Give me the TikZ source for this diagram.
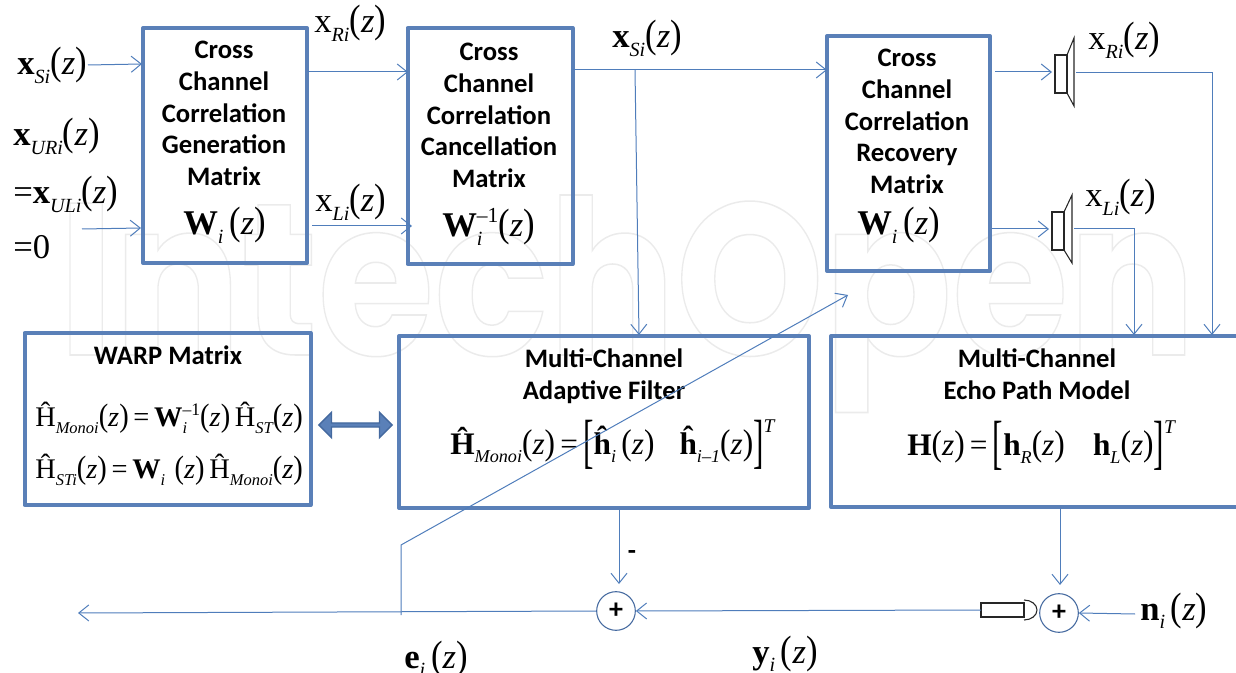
\documentclass[tikz,border=0pt]{standalone}
\usepackage{fontspec}
\usetikzlibrary{arrows.meta,shapes.arrows,calc}
\setmainfont{Liberation Serif}
\newfontfamily\boxfont{Carlito}
\newfontfamily\wmfont{Poppins}
\definecolor{thickblue}{HTML}{5A80B8}
\definecolor{thinblue}{HTML}{4F7DBB}
\definecolor{ringblue}{HTML}{44699F}
\newcommand\sz[1]{\fontsize{#1}{#1}\selectfont}
\newcommand\paren[1]{\scalebox{1}[1.14]{#1}}
\newcommand\zz{\paren{(}\textit{z}\paren{)}}
\newcommand\sbs[1]{\raisebox{-.24em}{\scalebox{.58}{\itshape #1}}}
\newcommand\spp[1]{\raisebox{.42em}{\scalebox{.62}{#1}}}
\newcommand\tpp[1]{\raisebox{.72em}{\scalebox{.62}{#1}}}
\newcommand\bigL{\raisebox{-.2em}{\scalebox{1}[1.9]{[}}}
\newcommand\bigR{\raisebox{-.2em}{\scalebox{1}[1.9]{]}}}
\tikzset{
  x=0.75pt,y=-0.75pt,
  blockbox/.style={draw=thickblue,line width=3pt,line join=round,inner sep=0pt,outer sep=0pt,fill=none},
  sigarrow/.style={draw=thinblue,line width=0.75pt,-{Straight Barb[length=7.5pt,width=12pt,line width=0.75pt]}},
  title/.style={font=\boxfont\bfseries\sz{20pt},align=center,inner sep=0pt,text depth=0pt},
  eq/.style={anchor=base west,inner sep=0pt,font=\sz{26pt}},
  eqs/.style={anchor=base west,inner sep=0pt,font=\sz{21.3pt}},
  eqb/.style={anchor=base west,inner sep=0pt,font=\sz{23.5pt}},
  sumnode/.style={circle,draw=ringblue,line width=0.8pt,minimum size=29pt,inner sep=0pt,font=\boxfont\bfseries\sz{21pt}},
  device/.style={draw=black!85,line width=0.8pt,inner sep=0pt,outer sep=0pt},
}
\begin{document}
\begin{tikzpicture}
\useasboundingbox (0,0) rectangle (1236,673);
% watermark
\node[anchor=base west,inner sep=0pt] (wm) at (58,355) {\resizebox{853pt}{120pt}{\wmfont\bfseries\sz{100pt}\special{pdf:code 1 Tr 0.92 G 0.7 w}IntechOpen\special{pdf:code 0 Tr 0 G 1 w}}};
% blocks
\node[blockbox,minimum width=123pt,minimum height=176.25pt] (gen) at (225,145.5) {};
\node[blockbox,minimum width=123.75pt,minimum height=177pt] (can) at (490,146) {};
\node[blockbox,minimum width=122.25pt,minimum height=176.25pt] (rec) at (908.5,153.5) {};
\node[blockbox,minimum width=214.5pt,minimum height=129pt] (warp) at (167.5,419) {};
\node[blockbox,minimum width=307.5pt,minimum height=129pt] (fil) at (604,422) {};
\node[blockbox,minimum width=313.5pt,minimum height=128.25pt] (ech) at (1040,421.5) {};
% titles
\foreach \nm/\cx/\ty/\la in {a/224/50/Cross,b/224/81.5/Channel,c/224/113/Correlation,d/224/144.5/Generation,e/224/176/Matrix,
  f/489/52/Cross,g/489/83.5/Channel,h/489/115/Correlation,i/489/146.5/Cancellation,j/489/178/Matrix,
  k/907/58/Cross,l/907/89.5/Channel,m/907/121/Correlation,n/907/152.5/Recovery,o/907/184/Matrix,
  p/168/355/WARP Matrix,q/604/358/Multi-Channel,r/604/390/Adaptive Filter,s/1037/358/Multi-Channel,t/1037/390/Echo Path Model}
  {\node[title] (tt\nm) at (\cx,\ty) {\la};}
% math labels
\node[eq] (lxs) at (17,75) {\textbf{x}\sbs{Si}\zz};
\node[eq] (lxur) at (13,146) {\textbf{x}\sbs{URi}\zz};
\node[eq] (lxul) at (13,204) {=\textbf{x}\sbs{ULi}\zz};
\node[eq] (lzero) at (13,259) {=0};
\node[eq] (lxr) at (314,33) {x\sbs{Ri}\zz};
\node[eq] (lxl) at (315,212) {x\sbs{Li}\zz};
\node[eq] (lw1) at (183,235) {\textbf{W}\sbs{i}\,\zz};
\node[eq] (lw2) at (442,237) {\textbf{W}\rlap{\sbs{i}}\spp{–1}\zz};
\node[eq] (lxs2) at (612,48) {\textbf{x}\sbs{Si}\zz};
\node[eq] (lw3) at (857,235) {\textbf{W}\sbs{i}\,\zz};
\node[eq] (lxr3) at (1088,50) {x\sbs{Ri}\zz};
\node[eq] (lxl3) at (1085,207) {x\sbs{Li}\zz};
\node[eqs] (lh1) at (35,427) {Ĥ\sbs{Monoi}\zz\,=\,\textbf{W}\rlap{\sbs{i}}\spp{–1}\zz\,Ĥ\sbs{ST}\zz};
\node[eqs] (lh2) at (35,479) {Ĥ\sbs{STi}\zz\,=\,\textbf{W}\sbs{i}\,\,\zz\,Ĥ\sbs{Monoi}\zz};
\node[eqb] (lh3) at (450,455) {\textbf{Ĥ}\sbs{Monoi}\zz\,=\,\bigL\textbf{ĥ}\sbs{i}\,\zz\hspace{.8em}\textbf{ĥ}\sbs{i–1}\zz\bigR\tpp{\textit{T}}};
\node[eqb] (lh4) at (907,456) {\textbf{H}\zz\,=\,\bigL\textbf{h}\sbs{R}\zz\hspace{.9em}\textbf{h}\sbs{L}\zz\bigR\tpp{\textit{T}}};
\node[eq] (le) at (404,668) {\textbf{e}\sbs{i}\,\zz};
\node[eq] (ly) at (752,663) {\textbf{y}\sbs{i}\,\zz};
\node[eq] (ln) at (1140,620) {\textbf{n}\sbs{i}\,\zz};
\node[inner sep=0pt,font=\boxfont\bfseries\sz{20pt}] (minus) at (632,555) {-};
% double arrow
\node[double arrow,draw=ringblue,fill=thickblue,line width=1pt,minimum height=55pt,minimum width=19pt,double arrow head extend=2.6pt,double arrow head indent=0pt,inner sep=0pt] (warrow) at (355.5,425) {};
% summing points
\node[sumnode] (s1) at (616,611) {+};
\node[sumnode] (s2) at (1059,613) {+};
% microphone
\node[device,minimum width=32.25pt,minimum height=10.5pt,anchor=west] (mic) at (981,610) {};
\draw[device] (mic.north east) ++(0,-3) arc[start angle=90,end angle=-90,x radius=9.75pt,y radius=7.5pt];
% loudspeakers
\node[device,minimum width=9pt,minimum height=28.5pt] (sp1) at (1061,74) {};
\draw[device] (sp1.north east) -- (1074,38) -- (1074,106) -- (sp1.south east);
\node[device,minimum width=9pt,minimum height=28.5pt] (sp2) at (1058,231) {};
\draw[device] (sp2.north east) -- (1072,195) -- (1072,263) -- (sp2.south east);
% free ends
\coordinate (i1) at (88,65);
\coordinate (i1e) at (142,64);
\coordinate (i2) at (82,229);
\coordinate (i2e) at (141,228);
\coordinate (o1a) at (308,72);
\coordinate (o1b) at (408,72);
\coordinate (o2a) at (312,226);
\coordinate (o2b) at (412,226);
\coordinate (o3a) at (573,70);
\coordinate (o3b) at (827,70);
\coordinate (tap) at (635,70);
\coordinate (tapd) at (639,335);
\coordinate (r1a) at (995,72);
\coordinate (r1b) at (1052,72);
\coordinate (r2a) at (992,229);
\coordinate (r2b) at (1049,229);
\coordinate (f1a) at (1076,73);
\coordinate (f1b) at (1212,73);
\coordinate (f1c) at (1212,335);
\coordinate (f2a) at (1074,229);
\coordinate (f2b) at (1134,229);
\coordinate (f2c) at (1134,335);
\coordinate (d0) at (401,615);
\coordinate (d1) at (401,545);
\coordinate (d2) at (848,295);
\coordinate (out) at (78,613);
\coordinate (nin) at (1135,614);
\coordinate (ftop) at (619,510);
\coordinate (fend) at (619,584);
\coordinate (etop) at (1060,509);
\coordinate (eend) at (1060,585);
% connectors
\draw[sigarrow] (i1) -- (i1e);
\draw[sigarrow] (i2) -- (i2e);
\draw[sigarrow] (o1a) -- (o1b);
\draw[sigarrow] (o2a) -- (o2b);
\draw[sigarrow] (o3a) -- (o3b);
\draw[sigarrow] (tap) -- (tapd);
\draw[sigarrow] (r1a) -- (r1b);
\draw[sigarrow] (r2a) -- (r2b);
\draw[sigarrow] (f1a) -- (f1b) -- (f1c);
\draw[sigarrow] (f2a) -- (f2b) -- (f2c);
\draw[sigarrow] (d0) -- (d1) -- (d2);
\draw[sigarrow] (s1.west) -- (out);
\draw[sigarrow] (mic.west) -- (s1.east);
\draw[sigarrow] (nin) -- (s2.east);
\draw[sigarrow] (ftop) -- (fend);
\draw[sigarrow] (etop) -- (eend);
\end{tikzpicture}
\end{document}
